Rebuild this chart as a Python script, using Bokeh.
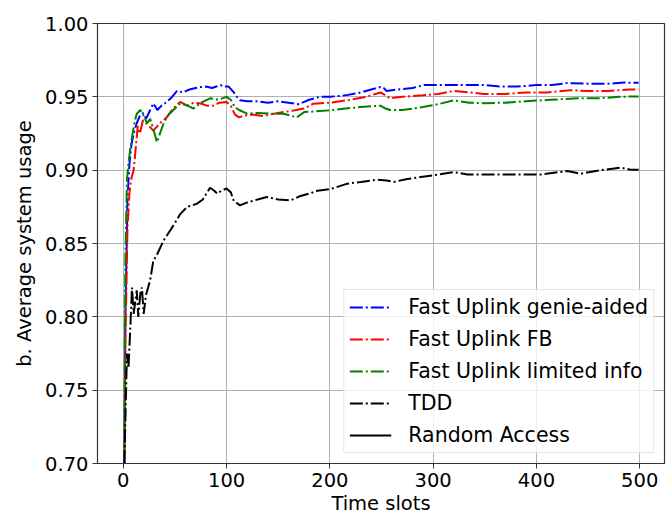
from bokeh.plotting import figure
from bokeh.models import FixedTicker, NumeralTickFormatter, Range1d, Legend, LegendItem
from bokeh.embed import file_html
from bokeh.resources import INLINE

# ---- data ----
genie_x = [0, 2, 4, 6, 8, 10, 13, 16, 19, 22, 26, 29, 33, 37, 41, 46, 52, 58, 64, 70, 75, 80, 86, 90, 94, 98,
           102, 107, 110, 113, 120, 130, 140, 150, 160, 170, 180, 190, 200, 215, 230, 240, 249, 252, 255, 265,
           280, 291, 300, 320, 349, 365, 381, 400, 415, 430, 450, 470, 485, 499]
genie_y = [0.60, 0.80, 0.88, 0.905, 0.918, 0.925, 0.932, 0.937, 0.939, 0.935, 0.941, 0.9455, 0.941, 0.944,
           0.946, 0.949, 0.954, 0.953, 0.955, 0.956, 0.9567, 0.957, 0.956, 0.957, 0.958, 0.957, 0.957, 0.953,
           0.950, 0.9476, 0.947, 0.947, 0.946, 0.947, 0.946, 0.945, 0.948, 0.950, 0.950, 0.951, 0.953, 0.955,
           0.9567, 0.956, 0.954, 0.955, 0.956, 0.958, 0.958, 0.958, 0.958, 0.957, 0.957, 0.958, 0.958, 0.9594,
           0.959, 0.959, 0.9597, 0.9596]

fb_x = [0, 2, 4, 6, 8, 10, 12, 14, 16, 19, 22, 25, 29, 33, 37, 42, 48, 55, 62, 68, 75, 81, 87, 93, 100, 104,
        108, 112, 116, 125, 135, 150, 165, 175, 184, 200, 220, 235, 249, 254, 258, 270, 290, 305, 320, 335,
        349, 370, 390, 410, 433, 450, 470, 490, 499]
fb_y = [0.55, 0.78, 0.86, 0.885, 0.895, 0.90, 0.915, 0.93, 0.925, 0.934, 0.932, 0.930, 0.927, 0.930, 0.933,
        0.936, 0.942, 0.9465, 0.944, 0.946, 0.9455, 0.944, 0.944, 0.946, 0.9465, 0.944, 0.938, 0.936, 0.937,
        0.938, 0.937, 0.939, 0.9407, 0.942, 0.9453, 0.946, 0.948, 0.950, 0.953, 0.951, 0.949, 0.950, 0.951,
        0.952, 0.954, 0.953, 0.952, 0.952, 0.953, 0.953, 0.9545, 0.954, 0.954, 0.955, 0.955]

lim_x = [0, 2, 3.5, 5, 7, 9, 11, 13, 16.5, 19, 23, 26, 29, 32.6, 36, 39, 44, 50, 55, 62, 68, 75, 84, 92, 100,
         104, 108, 112, 120, 130, 142, 155, 168, 175, 185, 200, 215, 230, 249, 254, 258, 270, 290, 305, 320,
         335, 349, 370, 390, 414, 440, 460, 480, 499]
lim_y = [0.62, 0.84, 0.893, 0.905, 0.916, 0.925, 0.933, 0.9385, 0.941, 0.938, 0.932, 0.935, 0.928, 0.919,
         0.926, 0.932, 0.938, 0.942, 0.9455, 0.944, 0.942, 0.946, 0.949, 0.948, 0.950, 0.948, 0.943, 0.941,
         0.9385, 0.939, 0.9385, 0.9385, 0.936, 0.9396, 0.940, 0.9408, 0.942, 0.943, 0.944, 0.942, 0.941, 0.941,
         0.943, 0.945, 0.9476, 0.946, 0.9457, 0.946, 0.947, 0.948, 0.949, 0.949, 0.950, 0.9503]

tdd_x = [0, 1, 2, 3.5, 5, 6.8, 8.4, 10, 11.5, 13, 14.5, 16.5, 18, 19.7, 22, 26, 29, 33, 39, 45.5, 50, 55, 62,
         71, 77, 84, 88, 91, 95, 100, 104, 107, 113, 120, 130, 139, 150, 162, 170, 180, 188, 200, 217, 230,
         246, 255, 262, 275, 288, 305, 320, 333, 346, 378, 404, 430, 443, 462, 482, 491, 499]
tdd_y = [0.60, 0.70, 0.73, 0.775, 0.765, 0.793, 0.82, 0.802, 0.81, 0.818, 0.80, 0.816, 0.82, 0.802, 0.815,
         0.825, 0.838, 0.843, 0.852, 0.859, 0.864, 0.870, 0.875, 0.877, 0.880, 0.888, 0.886, 0.884, 0.886,
         0.8875, 0.885, 0.879, 0.876, 0.878, 0.880, 0.8817, 0.880, 0.8794, 0.882, 0.884, 0.886, 0.887, 0.8908,
         0.892, 0.8935, 0.893, 0.892, 0.894, 0.8953, 0.897, 0.8987, 0.897, 0.897, 0.897, 0.897, 0.8994, 0.8976,
         0.900, 0.9017, 0.9003, 0.9003]

# Random Access lies below the visible y-range (only appears in the legend)
ra_x = [0, 100, 200, 300, 400, 499]
ra_y = [0.30, 0.36, 0.37, 0.37, 0.37, 0.37]

labels = ["Fast Uplink genie-aided", "Fast Uplink FB", "Fast Uplink limited info", "TDD", "Random Access"]
x_ticks = [0, 100, 200, 300, 400, 500]
y_ticks = [0.70, 0.75, 0.80, 0.85, 0.90, 0.95, 1.00]

FONT = "DejaVu Sans"
FS = "19.5px"

p = figure(width=669, height=530, output_backend="svg", toolbar_location=None,
           x_range=Range1d(-25, 524), y_range=Range1d(0.70, 1.00),
           min_border_left=97, min_border_right=5, min_border_top=23, min_border_bottom=67)

dash = "13 3 2 3"
r1 = p.line(genie_x, genie_y, line_color="#0000ff", line_width=2, line_dash=dash)
r2 = p.line(fb_x, fb_y, line_color="#ff0000", line_width=2, line_dash=dash)
r3 = p.line(lim_x, lim_y, line_color="#008000", line_width=2, line_dash=dash)
r4 = p.line(tdd_x, tdd_y, line_color="black", line_width=2, line_dash=dash)
r5 = p.line(ra_x, ra_y, line_color="black", line_width=2)

p.outline_line_color = "#333333"
p.outline_line_width = 1.2

p.xaxis.ticker = FixedTicker(ticks=x_ticks)
p.yaxis.ticker = FixedTicker(ticks=y_ticks)
p.yaxis.formatter = NumeralTickFormatter(format="0.00")
for ax in (p.xaxis[0], p.yaxis[0]):
    ax.major_label_text_font = FONT
    ax.major_label_text_font_size = FS
    ax.major_label_text_color = "black"
    ax.axis_label_text_font = FONT
    ax.axis_label_text_font_size = FS
    ax.axis_label_text_font_style = "normal"
    ax.axis_label_text_color = "black"
    ax.minor_tick_line_color = None
    ax.major_tick_in = 0
    ax.major_tick_out = 5
    ax.major_tick_line_color = "#333333"
    ax.axis_line_color = "#333333"
    ax.major_label_standoff = 4
p.xaxis.axis_label = "Time slots"
p.yaxis.axis_label = "b. Average system usage"
p.xaxis.axis_label_standoff = 2
p.yaxis.axis_label_standoff = 6

p.xgrid.ticker = FixedTicker(ticks=x_ticks)
p.ygrid.ticker = FixedTicker(ticks=y_ticks)
p.grid.grid_line_color = "#b0b0b0"
p.grid.grid_line_width = 1

legend = Legend(items=[LegendItem(label=l, renderers=[r]) for l, r in zip(labels, [r1, r2, r3, r4, r5])],
                location="bottom_right", margin=10, padding=5, spacing=8,
                glyph_width=42, glyph_height=22, label_height=22, label_standoff=17,
                label_text_font=FONT, label_text_font_size="20.5px", label_text_color="black",
                border_line_color="#cccccc", border_line_width=1,
                background_fill_color="white", background_fill_alpha=0.8)
p.add_layout(legend)

open("out.html", "w").write(file_html(p, INLINE))
